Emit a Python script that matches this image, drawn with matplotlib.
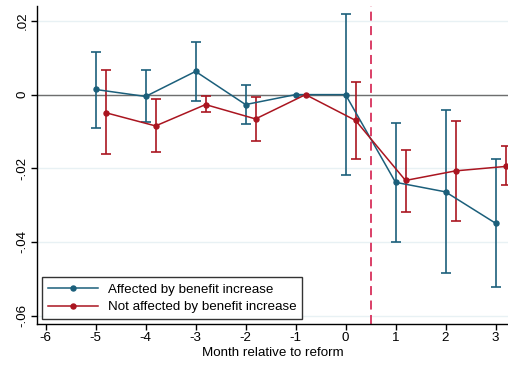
import numpy as np
import matplotlib.pyplot as plt

plt.rcParams['font.family'] = ['Liberation Sans', 'DejaVu Sans']
plt.rcParams['axes.unicode_minus'] = False

# event-study estimates (month relative to reform)
months = [-5, -4, -3, -2, -1, 0, 1, 2, 3]

aff_est = [0.0014, -0.0005, 0.0063, -0.0027, 0.0, 0.0, -0.0238, -0.0264, -0.0349]
aff_lo = [-0.0090, -0.0075, -0.0016, -0.0081, 0.0, -0.0217, -0.0401, -0.0483, -0.0522]
aff_hi = [0.0116, 0.0066, 0.0143, 0.0026, 0.0, 0.0218, -0.0077, -0.0042, -0.0176]

not_est = [-0.0049, -0.0085, -0.0027, -0.0066, 0.0, -0.0070, -0.0233, -0.0207, -0.0195]
not_lo = [-0.0162, -0.0157, -0.0047, -0.0126, 0.0, -0.0175, -0.0319, -0.0342, -0.0246]
not_hi = [0.0066, -0.0013, -0.0005, -0.0006, 0.0, 0.0035, -0.0151, -0.0072, -0.0140]

xticks = [-6, -5, -4, -3, -2, -1, 0, 1, 2, 3]
yticks = [-0.06, -0.04, -0.02, 0, 0.02]
ylabels = ['-.06', '-.04', '-.02', '0', '.02']

blue = '#1b5f7b'
red = '#aa1520'
fs = 9.6

fig = plt.figure(figsize=(5.08, 3.65), dpi=100)
ax = fig.add_axes([0.073, 0.112, 0.927, 0.872])

for y in yticks:
    ax.axhline(y, color='#e8f1f4', lw=1, zorder=0)
ax.axhline(0, color='#6e6e6e', lw=1, zorder=1)
ax.axvline(0.5, color='#d8305c', lw=1.3, ls=(0, (5, 3)), zorder=1)

def draw(xs, est, lo, hi, col, lab):
    xs = np.array(xs, dtype=float)
    est = np.array(est)
    lo = np.array(lo)
    hi = np.array(hi)
    has_ci = hi > lo
    ax.errorbar(xs[has_ci], est[has_ci],
                yerr=[est[has_ci] - lo[has_ci], hi[has_ci] - est[has_ci]],
                fmt='none', ecolor=col, elinewidth=1.4, capsize=3.5,
                capthick=1.4, alpha=0.85, zorder=2)
    ax.plot(xs, est, color=col, lw=1.1, marker='o', ms=3.6, label=lab, zorder=3)

draw(months, aff_est, aff_lo, aff_hi, blue, 'Affected by benefit increase')
draw(np.array(months) + 0.2, not_est, not_lo, not_hi, red, 'Not affected by benefit increase')

ax.set_xlim(-6.17, 3.25)
ax.set_ylim(-0.0623, 0.0241)
ax.set_xticks(xticks)
ax.set_yticks(yticks)
ax.set_yticklabels(ylabels, rotation=90, va='center')
ax.tick_params(labelsize=fs, length=4, width=1, color='black', pad=2)
ax.set_xlabel('Month relative to reform', fontsize=fs, labelpad=1.5)

for side in ['top', 'right']:
    ax.spines[side].set_visible(False)
for side in ['left', 'bottom']:
    ax.spines[side].set_linewidth(1)

leg = ax.legend(loc='lower left', fontsize=fs, frameon=True, fancybox=False,
                edgecolor='black', borderaxespad=0.35, handlelength=3.8,
                labelspacing=0.4, borderpad=0.45, handletextpad=0.7)
leg.get_frame().set_linewidth(1)

fig.savefig('out.png', dpi=100)
